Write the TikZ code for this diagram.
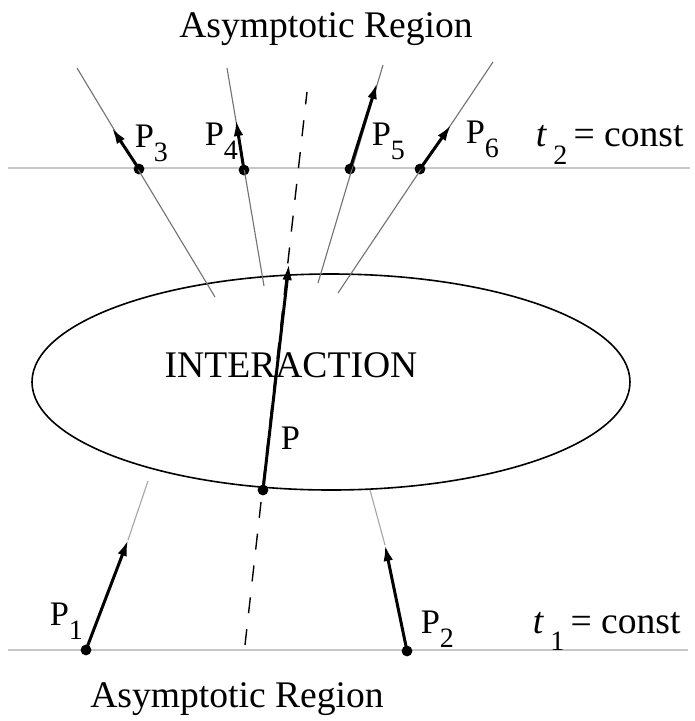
\documentclass[tikz,border=0pt]{standalone}
\usepackage{fontspec}
\setmainfont{Liberation Serif}
\usepackage{tikz}
\usetikzlibrary{arrows.meta,calc,shapes.geometric}
\newcommand{\lowsub}[2][3.5pt]{\raisebox{-#1}{\fontsize{7}{8}\selectfont #2}}
\tikzset{
  dot/.style ={circle, fill=black, inner sep=0pt, minimum size=2.7pt},
  trk/.style ={black!55, line width=0.28pt},
  fade/.style={black!35, line width=0.28pt},
  tline/.style={black!22, line width=0.4pt},
  mom/.style ={-{Latex[length=4pt,width=2.4pt]}, line width=0.75pt},
  cut/.style ={dash pattern=on 4pt off 4pt, line width=0.35pt},
  lab/.style ={anchor=base west, font=\fontsize{8.6}{10}\selectfont, inner sep=0pt},
  txt/.style ={anchor=base, font=\fontsize{9.4}{11}\selectfont, inner sep=0pt},
}

\begin{document}
\begin{tikzpicture}[x=0.25pt, y=-0.25pt]
  \useasboundingbox (0,0) rectangle (695,721);
  % time slices
  \coordinate (t2l) at (8,168);  \coordinate (t2r) at (690,168);
  \coordinate (t1l) at (8,650);  \coordinate (t1r) at (688,650);
  \draw[tline] (t2l) -- (t2r);
  \draw[tline] (t1l) -- (t1r);
  \node[txt] (top) at (326,37)  {Asymptotic Region};
  \node[txt] (bot) at (237,707) {Asymptotic Region};
  \node[txt, anchor=base west] (c2) at (535,146) {\textit{t}\,\lowsub[4.6pt]{2}\,= const};
  \node[txt, anchor=base west] (c1) at (532,633) {\textit{t}\,\lowsub[4.3pt]{1}\,= const};

  % interaction region
  \node[draw, ellipse, inner sep=0pt, minimum width=149.5pt, minimum height=54pt, line width=0.4pt] (blob) at (331,382) {};
  \node[txt] (int) at (291,377) {INTERACTION};

  % total momentum
  \node[dot] (p) at (263,490) {};
  \coordinate (ptip) at (289,264);
  \coordinate (cutb) at (245,645); \coordinate (cutt) at (307,92);
  \draw[cut] (cutb) -- (cutt);
  \draw[mom] (p.center) -- (ptip);
  \node[lab] (pl) at (280,449) {P};

  % incoming
  \node[dot] (p1) at (86,650) {};
  \node[dot] (p2) at (407,651) {};
  \coordinate (p1tip) at (128,540); \coordinate (p1end) at (148,481);
  \coordinate (p2tip) at (385,545); \coordinate (p2end) at (370,490);
  \draw[fade] (p1tip) -- (p1end);
  \draw[fade] (p2tip) -- (p2end);
  \draw[mom] (p1.center) -- (p1tip);
  \draw[mom] (p2.center) -- (p2tip);
  \node[lab] (l1) at (49,625) {P\lowsub{1}};
  \node[lab] (l2) at (420,633) {P\lowsub{2}};

  % outgoing
  \node[dot] (p3) at (139,169) {};
  \node[dot] (p4) at (244,170) {};
  \node[dot] (p5) at (350,169) {};
  \node[dot] (p6) at (420,169) {};
  \coordinate (p3a) at (215,297); \coordinate (p3b) at (77,68);
  \coordinate (p4a) at (264,286); \coordinate (p4b) at (227,68);
  \coordinate (p5a) at (318,283); \coordinate (p5b) at (383,65);
  \coordinate (p6a) at (338,293); \coordinate (p6b) at (493,62);
  \draw[trk] (p3a) -- (p3b);
  \draw[trk] (p4a) -- (p4b);
  \draw[trk] (p5a) -- (p5b);
  \draw[trk] (p6a) -- (p6b);
  \draw[mom] (p3.center) -- (112,128);
  \draw[mom] (p4.center) -- (236,120);
  \draw[mom] (p5.center) -- (377,83);
  \draw[mom] (p6.center) -- (451,125);
  \node[lab] (l3) at (134,147) {P\lowsub{3}};
  \node[lab] (l4) at (204,145) {P\lowsub{4}};
  \node[lab] (l5) at (371,145) {P\lowsub{5}};
  \node[lab] (l6) at (465,143) {P\lowsub{6}};
\end{tikzpicture}
\end{document}
